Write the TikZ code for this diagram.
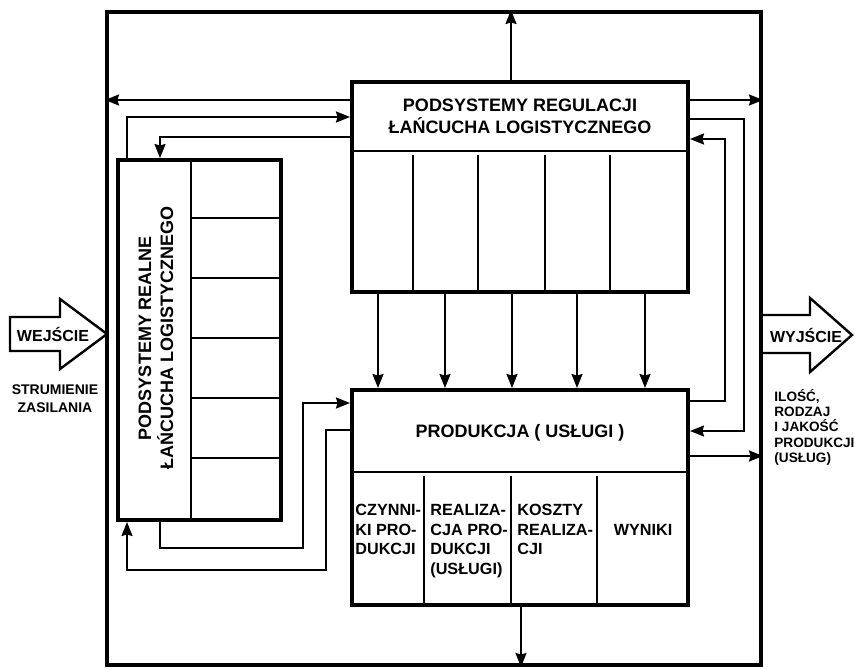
\documentclass[tikz,border=0pt]{standalone}
\usepackage{fontspec}
\setmainfont{Liberation Sans}
\usepackage{tikz}
\usetikzlibrary{calc,arrows.meta}

\begin{document}
\begin{tikzpicture}[x=0.5pt, y=-0.5pt, font=\bfseries,
    box/.style={draw, line width=2pt, inner sep=0pt},
    cell/.style={line width=1pt},
    link/.style={line width=1pt, -{Stealth[length=7pt, width=5.5pt, inset=0.8pt]}},
    head/.style={font=\fontsize{9}{11}\selectfont\bfseries, align=center},
    colitem/.style={font=\fontsize{8.1}{9.75}\selectfont\bfseries, align=left, inner sep=0pt}]
    \useasboundingbox (0,0) rectangle (855,668);

    \node[box, minimum width=327pt, minimum height=326.5pt] (frame) at (434,338.5) {};
    \node[box, minimum width=168pt, minimum height=105pt] (reg) at (520,187) {};
    \node[box, minimum width=168pt, minimum height=107.5pt] (prod) at (520,497.5) {};
    \node[box, minimum width=81.5pt, minimum height=180pt] (real) at (199.5,340) {};

    % cells
    \draw[cell] ($(reg.north west)+(0,71)$) -- ($(reg.north east)+(0,71)$);
    \foreach \dx in {63,128,195,260}
        \draw[cell] ($(reg.south west)+(\dx,0)$) -- ++(0,-139);
    \draw[cell] ($(prod.north west)+(0,84)$) -- ($(prod.north east)+(0,84)$);
    \foreach \dx in {74,161,247}
        \draw[cell] ($(prod.south west)+(\dx,0)$) -- ++(0,-131);
    \draw[cell] ($(real.north west)+(75,0)$) -- ($(real.south west)+(75,0)$);
    \foreach \dy in {60,120,180,240,300}
        \draw[cell] ($(real.north west)+(75,\dy)$) -- ($(real.north east)+(0,\dy)$);

    \node[head] (regtitle) at (520,116) {PODSYSTEMY REGULACJI\\ŁAŃCUCHA LOGISTYCZNEGO};
    \node[head] (prodtitle) at (520,433) {PRODUKCJA ( USŁUGI )};
    \node[head, rotate=90] (realtitle) at (156,338) {PODSYSTEMY REALNE\\ŁAŃCUCHA LOGISTYCZNEGO};

    \node[colitem, anchor=north west] (czyn) at (355,504) {CZYNNI-\\KI PRO-\\DUKCJI};
    \node[colitem, anchor=north west] (realiz) at (430,504) {REALIZA-\\CJA PRO-\\DUKCJI\\(USŁUGI)};
    \node[colitem, anchor=north west] (koszt) at (517,504) {KOSZTY\\REALIZA-\\CJI};
    \node[colitem] (wyniki) at (643,530) {WYNIKI};

    % input and output
    \draw[line width=1.2pt] (10,317) -- (60,317) -- (60,299) -- (107,334) -- (60,369) -- (60,351) -- (10,351) -- cycle;
    \node[font=\fontsize{8}{9}\selectfont\bfseries] (wej) at (53,334) {WEJŚCIE};
    \node[font=\fontsize{7}{9}\selectfont\bfseries, align=center] (strum) at (55,399) {STRUMIENIE\\ZASILANIA};
    \draw[line width=1.2pt] (frame.east |- 0,315) -- (810,315) -- (810,298) -- (852,335) -- (810,372) -- (810,353) -- (frame.east |- 0,353);
    \node[font=\fontsize{8}{9}\selectfont\bfseries] (wyj) at (806,335) {WYJŚCIE};
    \node[font=\fontsize{6.8}{7.6}\selectfont\bfseries, align=left, anchor=north west, inner sep=0pt] (ilosc) at (774,389) {ILOŚĆ,\\RODZAJ\\I JAKOŚĆ\\PRODUKCJI\\(USŁUG)};

    % connectors
    \draw[link] ($(reg.north)+(-9,0)$) coordinate (rt) -- (rt |- frame.north);
    \draw[link] ($(prod.south)+(1,0)$) coordinate (pb) -- (pb |- frame.south);
    \draw[link] ($(reg.north west)+(0,20)$) coordinate (r1) -- (r1 -| frame.west);
    \draw[link] ($(reg.north east)+(0,20)$) coordinate (r2) -- (r2 -| frame.east);
    \draw[link] ($(real.north west)+(11,0)$) |- ($(reg.north west)+(0,37)$);
    \draw[link] ($(reg.north west)+(0,57)$) -| ($(real.north west)+(44,0)$);
    \draw[link] ($(reg.north east)+(0,39)$) -- ++(54,0) |- ($(prod.north east)+(0,43)$);
    \draw[link] ($(prod.north east)+(0,13)$) -- ++(35,0) |- ($(reg.north east)+(0,59)$);
    \draw[link] ($(prod.north east)+(0,68)$) coordinate (p1) -- (p1 -| frame.east);
    \draw[link] ($(real.south west)+(44,0)$) -- ++(0,26) -- ++(143,0) |- ($(prod.north west)+(0,15)$);
    \draw[link] ($(prod.north west)+(0,42)$) -- ++(-24,0) -- ++(0,140) -| ($(real.south west)+(11,0)$);
    \foreach \dx in {28,95,162,227,295}
        \draw[link] ($(reg.south west)+(\dx,0)$) -- ($(prod.north west)+(\dx,0)$);
\end{tikzpicture}
\end{document}
